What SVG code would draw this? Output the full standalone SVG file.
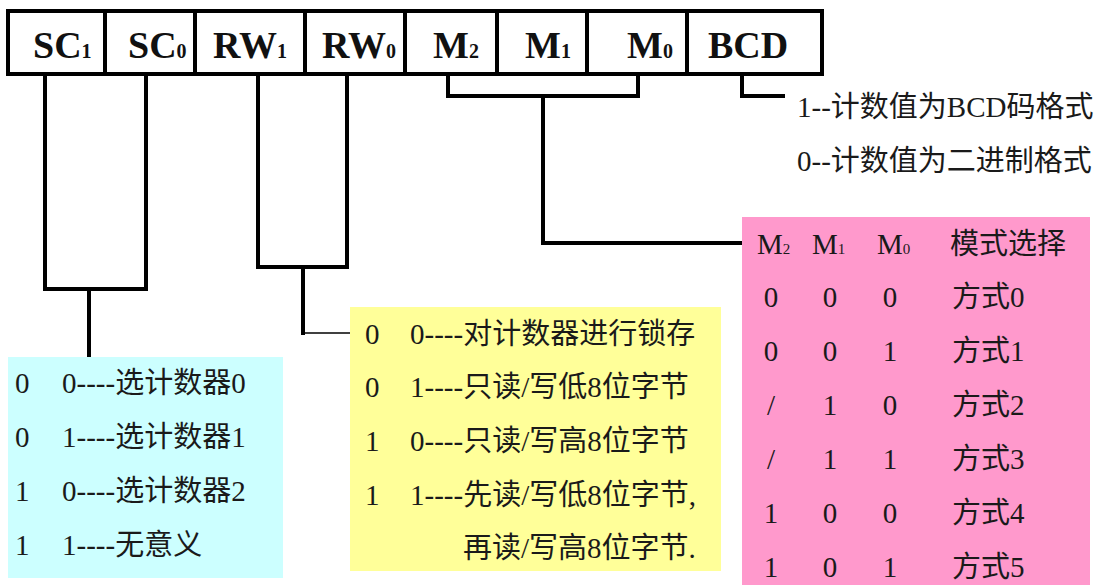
<svg xmlns="http://www.w3.org/2000/svg" width="1111" height="585" viewBox="0 0 1111 585">
<style>
.hdr{font-family:"Liberation Serif","Times New Roman",serif;font-weight:bold;font-size:38px;fill:#111}
.sub{font-size:20px}
.t{font-family:"Liberation Serif","Noto Sans CJK SC",serif;font-size:29px;fill:#1a1a1a}
.mid{text-anchor:middle}
.thick{fill:none;stroke:#000;stroke-width:4;stroke-linejoin:miter;stroke-linecap:square}
.thin{fill:none;stroke:#000;stroke-width:1.5}
.psub{font-size:15px}
</style>
<rect width="1111" height="585" fill="#fff"/>

<g id="register">
<rect x="8" y="11" width="814" height="63" fill="#fff" stroke="#000" stroke-width="4"/>
<path d="M105 11V74M195 11V74M305 11V74M405 11V74M497 11V74M587 11V74M687 11V74" stroke="#000" stroke-width="4"/>
<text class="hdr" x="33" y="58">SC<tspan class="sub">1</tspan></text>
<text class="hdr" x="128" y="58">SC<tspan class="sub">0</tspan></text>
<text class="hdr" x="213" y="58">RW<tspan class="sub">1</tspan></text>
<text class="hdr" x="322" y="58">RW<tspan class="sub">0</tspan></text>
<text class="hdr" x="433" y="58">M<tspan class="sub">2</tspan></text>
<text class="hdr" x="525" y="58">M<tspan class="sub">1</tspan></text>
<text class="hdr" x="627" y="58">M<tspan class="sub">0</tspan></text>
<text class="hdr" x="708" y="58">BCD</text>
</g>

<g id="connectors">
<path class="thick" d="M45 74V289H146V74"/>
<path class="thick" d="M89 289V357"/>
<path class="thick" d="M258 74V267H347V74"/>
<path class="thick" d="M303 267V333"/>
<path class="thin" d="M303 333H350"/>
<path class="thick" d="M448 74V96H638V74"/>
<path class="thick" d="M543 96V243H742"/>
<path class="thick" d="M742 74V96H783"/>
</g>

<g id="bcd-note">
<text class="t" x="797" y="117">1--计数值为BCD码格式</text>
<text class="t" x="797" y="171">0--计数值为二进制格式</text>
</g>

<g id="sc-table">
<rect x="8" y="357" width="275" height="221" fill="#ccffff"/>
<text class="t" x="15" y="393">0</text><text class="t" x="62" y="393">0----选计数器0</text>
<text class="t" x="15" y="447">0</text><text class="t" x="62" y="447">1----选计数器1</text>
<text class="t" x="15" y="501">1</text><text class="t" x="62" y="501">0----选计数器2</text>
<text class="t" x="15" y="555">1</text><text class="t" x="62" y="555">1----无意义</text>
</g>

<g id="rw-table">
<rect x="350" y="307" width="371" height="264" fill="#ffff99"/>
<text class="t" x="365" y="344">0</text><text class="t" x="410" y="344">0----对计数器进行锁存</text>
<text class="t" x="365" y="397">0</text><text class="t" x="410" y="397">1----只读/写低8位字节</text>
<text class="t" x="365" y="451">1</text><text class="t" x="410" y="451">0----只读/写高8位字节</text>
<text class="t" x="365" y="505">1</text><text class="t" x="410" y="505">1----先读/写低8位字节,</text>
<text class="t" x="463" y="558">再读/写高8位字节.</text>
</g>

<g id="mode-table">
<rect x="742" y="217" width="348" height="368" fill="#ff99cc"/>
<text class="t" x="757" y="254" font-size="26">M<tspan class="psub">2</tspan></text>
<text class="t" x="812" y="254" font-size="26">M<tspan class="psub">1</tspan></text>
<text class="t" x="877" y="254" font-size="26">M<tspan class="psub">0</tspan></text>
<text class="t" x="950" y="254">模式选择</text>
<g class="t mid">
<text x="771" y="307">0</text><text x="830" y="307">0</text><text x="890" y="307">0</text>
<text x="771" y="361">0</text><text x="830" y="361">0</text><text x="890" y="361">1</text>
<text x="771" y="415">/</text><text x="830" y="415">1</text><text x="890" y="415">0</text>
<text x="771" y="469">/</text><text x="830" y="469">1</text><text x="890" y="469">1</text>
<text x="771" y="523">1</text><text x="830" y="523">0</text><text x="890" y="523">0</text>
<text x="771" y="577">1</text><text x="830" y="577">0</text><text x="890" y="577">1</text>
</g>
<text class="t" x="952" y="307">方式0</text>
<text class="t" x="952" y="361">方式1</text>
<text class="t" x="952" y="415">方式2</text>
<text class="t" x="952" y="469">方式3</text>
<text class="t" x="952" y="523">方式4</text>
<text class="t" x="952" y="577">方式5</text>
</g>
</svg>
